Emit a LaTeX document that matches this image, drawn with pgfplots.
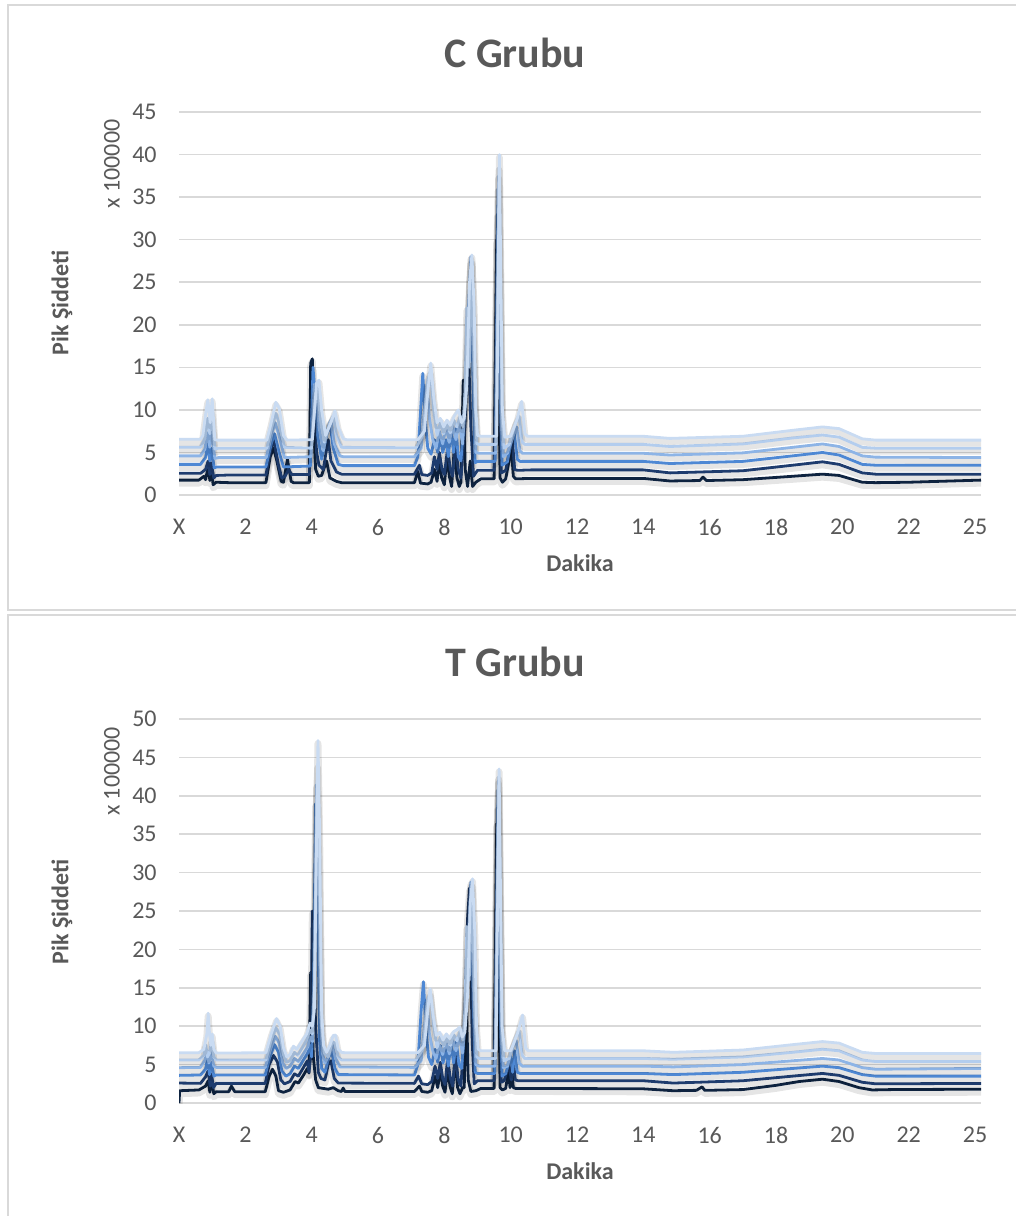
\documentclass[border=0pt]{standalone}
\usepackage{fontspec}
\setmainfont{Carlito}
\usepackage{pgfplots}
\pgfplotsset{compat=1.18}
\definecolor{sA}{HTML}{0E2340}
\definecolor{sB}{HTML}{1E3C6E}
\definecolor{sC}{HTML}{4E88D4}
\definecolor{sD}{HTML}{8DB4E6}
\definecolor{sE}{HTML}{B3CDEE}
\definecolor{sF}{HTML}{C9DBF2}
\definecolor{txt}{HTML}{595959}
\definecolor{grd}{HTML}{D9D9D9}
\pgfplotsset{chrom/.style={
  scale only axis, width=401pt, xmin=0, xmax=24.18, ymin=0,
  axis line style={draw=none}, major tick length=0pt,
  ymajorgrids, grid style={grd, line width=0.8pt},
  xtick={0,2,...,24}, xticklabels={X,2,4,6,8,10,12,14,16,18,20,22,25},
  tick label style={font=\fontsize{12}{14}\selectfont, text=txt},
  xticklabel style={anchor=north, inner sep=0pt, yshift=-12pt},
  yticklabel style={anchor=east, inner sep=0pt, xshift=-11pt},
  /pgf/number format/assume math mode=true,
  every axis plot/.append style={line width=1.4pt, line join=round, mark=none,
     preaction={draw=black, opacity=0.10, line width=3.5pt, transform canvas={yshift=-1.5pt}}},
}}
\begin{document}
\begin{tikzpicture}
\useasboundingbox (0,0) rectangle (508pt,-608pt);
\draw[grd, line width=1pt] (4.15pt,-2.5pt) rectangle (512pt,-305pt);
\draw[grd, line width=1pt] (4.15pt,-307.4pt) rectangle (512pt,-612pt);
\node[font=\fontsize{21}{25}\selectfont\bfseries, text=txt] at (257.5pt,-26.5pt) {C Grubu};
\node[font=\fontsize{21}{25}\selectfont\bfseries, text=txt] at (257.5pt,-331pt) {T Grubu};
\node[font=\fontsize{12}{14}\selectfont\bfseries, text=txt] at (290pt,-281.5pt) {Dakika};
\node[font=\fontsize{12}{14}\selectfont\bfseries, text=txt] at (290pt,-585.5pt) {Dakika};
\node[font=\fontsize{12}{14}\selectfont\bfseries, text=txt, rotate=90] at (31pt,-151.5pt) {Pik Şiddeti};
\node[font=\fontsize{12}{14}\selectfont\bfseries, text=txt, rotate=90] at (31pt,-456pt) {Pik Şiddeti};
\node[font=\fontsize{12}{14}\selectfont, text=txt, rotate=90] at (56pt,-82pt) {x 100000};
\node[font=\fontsize{12}{14}\selectfont, text=txt, rotate=90] at (56pt,-385.75pt) {x 100000};

\begin{axis}[chrom, at={(89.5pt,-247.5pt)}, anchor=south west, height=191.5pt, ymax=45, ytick={0,5,...,45}]
\addplot[sA] coordinates {(0,1.75)(0.6,1.75)(0.75,2.2)(0.8,1.8)(0.88,3.3)(0.93,1.7)(0.97,3.0)(1.03,1.2)(1.12,1.5)(1.5,1.45)(2.62,1.45)(2.75,4.5)(2.85,5.5)(2.95,4.0)(3.08,1.6)(3.15,1.5)(3.27,4.2)(3.38,1.6)(3.45,1.45)(3.93,1.45)(3.97,15.5)(4.02,16.0)(4.06,8)(4.12,3.0)(4.2,2.2)(4.3,2.3)(4.45,4.0)(4.55,2.0)(4.75,1.6)(4.9,1.45)(7.1,1.45)(7.2,2.8)(7.28,1.4)(7.5,1.3)(7.6,1.5)(7.7,3.0)(7.78,1.6)(7.85,4.0)(7.92,2.0)(8.0,1.2)(8.08,4.5)(8.15,2.2)(8.22,1.0)(8.3,5.5)(8.38,2.0)(8.45,1.0)(8.5,1.5)(8.57,13.5)(8.63,3)(8.7,1.0)(8.78,4)(8.85,1.0)(8.95,1.5)(9.1,1.9)(9.5,1.9)(9.58,30)(9.62,20)(9.68,2)(9.75,1.5)(9.85,1.9)(9.95,4)(10.02,5.5)(10.08,2.2)(10.15,1.9)(10.6,1.95)(14,1.95)(14.8,1.65)(15.7,1.7)(15.8,2.1)(15.9,1.7)(17,1.8)(18.5,2.2)(19.4,2.45)(19.9,2.3)(20.6,1.5)(21,1.45)(22,1.5)(24.18,1.75)};
\addplot[sB] coordinates {(0,2.55)(0.65,2.55)(0.8,3.0)(0.88,4.0)(0.93,2.4)(0.97,3.8)(1.05,2.0)(1.12,2.3)(1.5,2.35)(2.62,2.35)(2.75,5.0)(2.85,6.6)(3.0,3.5)(3.1,2.0)(3.2,2.2)(3.3,3.0)(3.4,2.4)(3.93,2.4)(3.98,7)(4.02,11)(4.08,9)(4.15,5)(4.22,3.5)(4.35,3.0)(4.5,6.5)(4.58,4)(4.75,2.7)(4.9,2.45)(7.1,2.45)(7.25,3.5)(7.32,2.4)(7.5,2.3)(7.62,2.6)(7.7,4.5)(7.78,3.0)(7.85,5.0)(7.93,3.0)(8.0,2.4)(8.1,5.5)(8.18,3.0)(8.25,2.2)(8.33,6.0)(8.42,3.0)(8.5,2.0)(8.62,8)(8.72,18)(8.8,8)(8.88,2.2)(9.0,2.9)(9.5,2.9)(9.6,33)(9.66,15)(9.72,2.6)(9.85,2.9)(9.98,5.5)(10.05,6.5)(10.12,3)(10.2,2.9)(10.6,2.95)(14,2.95)(14.8,2.6)(17,2.85)(18.5,3.5)(19.4,3.9)(19.9,3.6)(20.6,2.6)(21,2.45)(24.18,2.45)};
\addplot[sC] coordinates {(0,3.6)(0.65,3.6)(0.8,4.4)(0.87,6.0)(0.93,4.0)(0.98,5.5)(1.06,3.2)(1.15,3.3)(2.62,3.3)(2.78,6.0)(2.88,7.2)(3.02,5.0)(3.15,3.3)(3.96,3.4)(4.04,15.0)(4.1,12)(4.18,7)(4.3,4.2)(4.45,7)(4.55,8.5)(4.65,5.5)(4.8,3.6)(4.95,3.45)(7.1,3.45)(7.2,4.5)(7.3,11)(7.35,14.3)(7.42,9)(7.5,5.5)(7.6,4.8)(7.7,6.5)(7.8,5.0)(7.88,7)(7.95,5.0)(8.05,6.5)(8.12,4.5)(8.2,7.5)(8.28,5.0)(8.35,7.8)(8.42,4.5)(8.5,4.0)(8.6,9)(8.7,20)(8.8,27.5)(8.87,12)(8.93,3.8)(9.0,3.95)(9.53,3.95)(9.62,36)(9.68,12)(9.74,3.5)(9.9,3.9)(10.05,7)(10.1,7.5)(10.2,4.2)(10.28,3.95)(10.6,3.95)(14,3.95)(14.8,3.7)(17,3.95)(18.5,4.6)(19.4,5.0)(19.9,4.7)(20.6,3.6)(21,3.5)(24.18,3.5)};
\addplot[sD] coordinates {(0,4.6)(0.65,4.6)(0.78,5.4)(0.86,7.3)(0.93,5.6)(0.98,7.8)(1.08,4.3)(1.2,4.4)(2.63,4.4)(2.8,7.2)(2.9,8.5)(3.05,6.5)(3.18,4.4)(3.98,4.5)(4.08,13)(4.15,12.5)(4.22,8)(4.35,5.2)(4.5,8)(4.58,8.8)(4.68,6)(4.85,4.6)(4.95,4.5)(7.1,4.5)(7.3,5.5)(7.4,10)(7.48,13)(7.55,9)(7.65,6.5)(7.75,5.5)(7.85,7.5)(7.95,6.0)(8.05,8.0)(8.15,6.2)(8.25,8.2)(8.35,6.5)(8.45,8.5)(8.55,6.0)(8.65,12)(8.8,28.0)(8.88,15)(8.95,5.0)(9.05,4.9)(9.55,4.9)(9.64,37.5)(9.72,8)(9.78,4.5)(9.9,4.9)(10.1,7.2)(10.18,8)(10.28,5.2)(10.35,4.9)(10.6,4.9)(14,4.9)(14.8,4.7)(17,4.95)(18.5,5.6)(19.4,6.0)(19.9,5.7)(20.6,4.6)(21,4.45)(24.18,4.4)};
\addplot[sE] coordinates {(0,5.6)(0.65,5.6)(0.78,6.6)(0.86,9.0)(0.93,7.2)(0.99,9.8)(1.08,5.4)(1.2,5.5)(2.65,5.5)(2.8,8.0)(2.92,9.6)(3.05,8.0)(3.18,5.6)(4.0,5.5)(4.12,12)(4.18,12.5)(4.26,9)(4.38,6.2)(4.55,8.5)(4.65,9.3)(4.75,7)(4.9,5.6)(7.15,5.55)(7.35,7)(7.5,13.5)(7.58,14.5)(7.68,10)(7.78,7)(7.88,8.5)(7.98,7.2)(8.08,8.3)(8.18,7.3)(8.28,8.8)(8.38,8)(8.48,9.3)(8.56,8)(8.62,12)(8.68,22)(8.75,15)(8.84,27.5)(8.92,12)(8.98,6)(9.05,5.95)(9.56,5.95)(9.65,38.5)(9.74,9)(9.8,5.5)(9.95,5.9)(10.15,8.5)(10.25,9.3)(10.35,6.2)(10.42,5.95)(10.6,5.95)(14,5.95)(14.8,5.7)(17,6.0)(18.5,6.7)(19.4,7.05)(19.9,6.8)(20.6,5.6)(21,5.5)(24.18,5.5)};
\addplot[sF] coordinates {(0,6.55)(0.65,6.55)(0.72,7.0)(0.82,10)(0.87,11.2)(0.94,8.5)(1.0,11.3)(1.08,6.5)(1.15,6.45)(2.65,6.45)(2.78,8.5)(2.92,10.9)(3.02,10.2)(3.15,7.0)(3.25,6.45)(4.02,6.5)(4.15,13.2)(4.22,13.5)(4.3,10)(4.42,7.0)(4.58,8.5)(4.7,9.9)(4.8,8)(4.95,6.6)(5.05,6.5)(7.2,6.5)(7.4,7.5)(7.5,12)(7.59,15.5)(7.68,11.5)(7.78,8.5)(7.88,9.0)(7.98,8.0)(8.08,8.8)(8.18,8.2)(8.3,9.3)(8.42,10.0)(8.52,8.5)(8.6,9.0)(8.68,13)(8.76,25)(8.83,28.2)(8.9,22)(8.95,10)(9.0,7.0)(9.1,6.9)(9.58,6.9)(9.66,40)(9.75,10)(9.82,6.8)(10.0,6.9)(10.2,9)(10.33,11)(10.43,7.2)(10.5,6.9)(10.6,6.9)(14,6.9)(14.8,6.65)(17,6.9)(18.5,7.6)(19.4,8.0)(19.9,7.8)(20.6,6.6)(21,6.45)(24.18,6.45)};
\end{axis}

\begin{axis}[chrom, at={(89.5pt,-551.5pt)}, anchor=south west, height=192pt, ymax=50, ytick={0,5,...,50}]
\addplot[sA] coordinates {(0,0)(0.02,1.6)(0.6,1.7)(0.8,2.2)(0.88,2.9)(0.93,1.4)(0.98,3.1)(1.05,1.2)(1.12,1.47)(1.5,1.47)(1.58,2.2)(1.68,1.47)(2.6,1.47)(2.72,3.5)(2.82,4.4)(2.92,3.5)(3.0,1.6)(3.15,1.4)(3.35,1.7)(3.5,2.8)(3.6,2.6)(3.75,3.6)(3.87,4.5)(3.92,3.9)(3.97,17)(4.0,12)(4.05,6)(4.12,3)(4.2,2.0)(4.35,1.9)(4.5,1.8)(4.65,2.0)(4.8,1.6)(4.9,1.5)(4.95,1.95)(5.0,1.5)(7.1,1.5)(7.25,2.2)(7.32,1.5)(7.5,1.4)(7.62,1.6)(7.72,3.5)(7.8,2.0)(7.88,4.3)(7.95,2.2)(8.02,1.4)(8.1,4.5)(8.17,2.2)(8.24,1.2)(8.32,5.5)(8.4,2.0)(8.47,1.2)(8.55,2.0)(8.6,2.0)(8.66,14)(8.72,3)(8.8,1.5)(8.95,1.6)(9.1,1.9)(9.5,1.9)(9.58,36.4)(9.63,20)(9.68,2)(9.75,1.7)(9.85,1.9)(9.93,4.2)(9.98,2.0)(10.03,4.5)(10.08,2.0)(10.15,1.9)(10.6,1.9)(14,1.85)(14.9,1.6)(15.6,1.65)(15.77,2.1)(15.85,1.65)(17,1.75)(18,2.3)(18.7,2.8)(19.4,3.1)(19.9,2.8)(20.5,2.0)(20.9,1.7)(21.5,1.75)(24.18,1.8)};
\addplot[sB] coordinates {(0,2.6)(0.65,2.56)(0.8,3.4)(0.88,4.2)(0.94,2.2)(0.98,3.8)(1.04,2.0)(1.12,2.56)(2.6,2.56)(2.72,5)(2.85,6.2)(2.97,5.3)(3.07,3.0)(3.18,2.5)(3.35,2.8)(3.48,3.8)(3.6,3.5)(3.75,4.6)(3.87,5.5)(3.92,4.0)(3.97,6)(4.02,25)(4.07,17)(4.12,10)(4.2,4)(4.28,3.2)(4.4,3.0)(4.5,5)(4.58,5.5)(4.68,3.2)(4.8,2.6)(7.1,2.56)(7.22,3.5)(7.32,2.5)(7.5,2.4)(7.62,2.8)(7.72,4.8)(7.8,3.2)(7.88,5.3)(7.95,3.2)(8.02,2.4)(8.1,5.8)(8.18,3.2)(8.25,2.2)(8.33,6.5)(8.42,3.0)(8.5,2.2)(8.6,9)(8.7,24)(8.76,28)(8.84,8)(8.9,2.5)(9.0,2.9)(9.5,2.9)(9.6,38.5)(9.66,15)(9.72,2.7)(9.8,2.9)(9.95,5.0)(10.02,3.0)(10.08,5.5)(10.14,3.0)(10.22,2.9)(10.6,2.9)(14,2.9)(14.9,2.6)(17,2.9)(18.5,3.5)(19.4,3.85)(19.9,3.6)(20.6,2.7)(21,2.5)(24.18,2.55)};
\addplot[sC] coordinates {(0,3.6)(0.65,3.65)(0.8,4.4)(0.86,5.8)(0.92,3.7)(0.98,5.3)(1.05,3.5)(1.12,3.65)(2.6,3.65)(2.74,6)(2.88,7.6)(3.0,6.6)(3.1,4.2)(3.22,3.5)(3.35,3.8)(3.48,4.8)(3.6,4.5)(3.75,5.6)(3.88,6.5)(3.94,7.5)(4.0,6.0)(4.05,15)(4.12,39)(4.18,25)(4.24,8)(4.3,4.5)(4.4,4.0)(4.52,6.0)(4.6,6.8)(4.7,4.5)(4.8,3.7)(7.1,3.65)(7.2,5)(7.3,12)(7.37,15.8)(7.44,10)(7.52,6)(7.62,5.0)(7.72,7)(7.8,5.3)(7.88,7.5)(7.96,5.2)(8.05,7.0)(8.12,4.8)(8.2,7.8)(8.28,5.2)(8.36,8)(8.44,5.0)(8.52,4.5)(8.6,9)(8.7,19)(8.8,28.5)(8.87,13)(8.93,4)(9.0,3.85)(9.52,3.85)(9.62,40.8)(9.68,12)(9.74,3.5)(9.85,3.85)(10.0,6)(10.06,4)(10.12,6.8)(10.2,4.0)(10.28,3.85)(10.6,3.85)(14,3.85)(14.9,3.7)(17,4.0)(18.5,4.5)(19.4,4.8)(19.9,4.6)(20.6,3.7)(21,3.5)(24.18,3.5)};
\addplot[sD] coordinates {(0,4.6)(0.65,4.64)(0.78,5.6)(0.85,6.8)(0.9,5.2)(0.97,6.6)(1.05,4.8)(1.12,4.64)(2.6,4.64)(2.76,7)(2.9,8.7)(3.02,7.8)(3.13,5.2)(3.23,4.5)(3.35,4.8)(3.48,5.8)(3.6,5.4)(3.75,6.4)(3.88,7.3)(3.96,8.6)(4.03,8.0)(4.09,18)(4.15,41.5)(4.2,30)(4.26,12)(4.32,6.5)(4.4,5.2)(4.55,6.5)(4.62,7.6)(4.72,5.8)(4.85,4.7)(7.1,4.64)(7.3,5.5)(7.4,10)(7.48,13.2)(7.55,9)(7.65,6.8)(7.75,5.8)(7.85,7.6)(7.95,6.3)(8.05,8.0)(8.15,6.4)(8.25,8.3)(8.35,6.8)(8.45,8.6)(8.55,6.5)(8.65,12)(8.8,28.8)(8.88,15)(8.95,5.0)(9.05,4.8)(9.53,4.8)(9.63,42)(9.72,8)(9.78,4.6)(9.9,4.8)(10.08,7.5)(10.16,8.2)(10.26,5.2)(10.35,4.8)(10.6,4.8)(14,4.8)(14.9,4.7)(17,5.0)(18.5,5.5)(19.4,5.8)(19.9,5.6)(20.6,4.6)(21,4.4)(24.18,4.5)};
\addplot[sE] coordinates {(0,5.6)(0.6,5.6)(0.75,6.2)(0.8,7.6)(0.86,6.0)(0.92,6.5)(0.98,8.2)(1.05,6.0)(1.12,5.6)(2.62,5.6)(2.78,8.2)(2.92,9.8)(3.05,8.8)(3.15,6.3)(3.25,5.3)(3.35,5.5)(3.48,6.6)(3.58,6.2)(3.72,7.2)(3.85,8.2)(3.95,9.5)(4.02,9.0)(4.08,15)(4.15,40)(4.18,44)(4.23,30)(4.3,10)(4.38,6.5)(4.5,6.0)(4.62,8.0)(4.7,7.8)(4.8,6.0)(4.9,5.6)(7.15,5.6)(7.35,7)(7.5,13.5)(7.58,14.3)(7.68,10)(7.78,7.2)(7.88,8.6)(7.98,7.4)(8.08,8.4)(8.18,7.5)(8.28,8.9)(8.38,8.1)(8.48,9.4)(8.56,8.2)(8.62,12)(8.68,23)(8.75,16)(8.84,28.5)(8.92,12)(8.98,6)(9.05,5.8)(9.54,5.8)(9.64,42.5)(9.74,9)(9.8,5.5)(9.95,5.8)(10.15,8.5)(10.25,9.5)(10.35,6.2)(10.42,5.8)(10.6,5.8)(14,5.8)(14.9,5.7)(17,6.0)(18.5,6.6)(19.4,7.0)(19.9,6.8)(20.6,5.6)(21,5.4)(24.18,5.4)};
\addplot[sF] coordinates {(0,6.55)(0.6,6.55)(0.75,7.0)(0.84,9)(0.88,11.7)(0.92,9)(0.96,7.5)(1.0,9.0)(1.05,7)(1.12,6.5)(2.62,6.55)(2.78,9)(2.94,11.0)(3.05,10)(3.15,7.2)(3.25,6.0)(3.35,6.3)(3.45,7.4)(3.55,7.0)(3.7,8.0)(3.85,9.0)(3.95,10.4)(4.02,10.0)(4.08,12)(4.15,35)(4.19,47.2)(4.24,35)(4.3,12)(4.36,7.5)(4.45,6.6)(4.55,7.5)(4.65,8.8)(4.72,8.85)(4.8,7.0)(4.9,6.6)(5.0,6.55)(7.2,6.55)(7.4,7.5)(7.5,12)(7.57,14.9)(7.66,11.5)(7.76,8.8)(7.86,9.2)(7.96,8.2)(8.06,9.0)(8.16,8.4)(8.28,9.3)(8.4,9.6)(8.47,9.9)(8.54,8.6)(8.62,9.2)(8.7,14)(8.78,26)(8.85,29.2)(8.92,22)(8.97,10)(9.02,7.0)(9.1,6.8)(9.56,6.8)(9.65,43.5)(9.74,10)(9.82,6.8)(10.0,6.8)(10.2,9)(10.36,11.46)(10.45,7.2)(10.52,6.8)(10.6,6.8)(14,6.8)(14.9,6.6)(17,6.9)(18.5,7.6)(19.4,8.0)(19.9,7.8)(20.6,6.6)(21,6.45)(24.18,6.45)};
\end{axis}
\end{tikzpicture}
\end{document}
